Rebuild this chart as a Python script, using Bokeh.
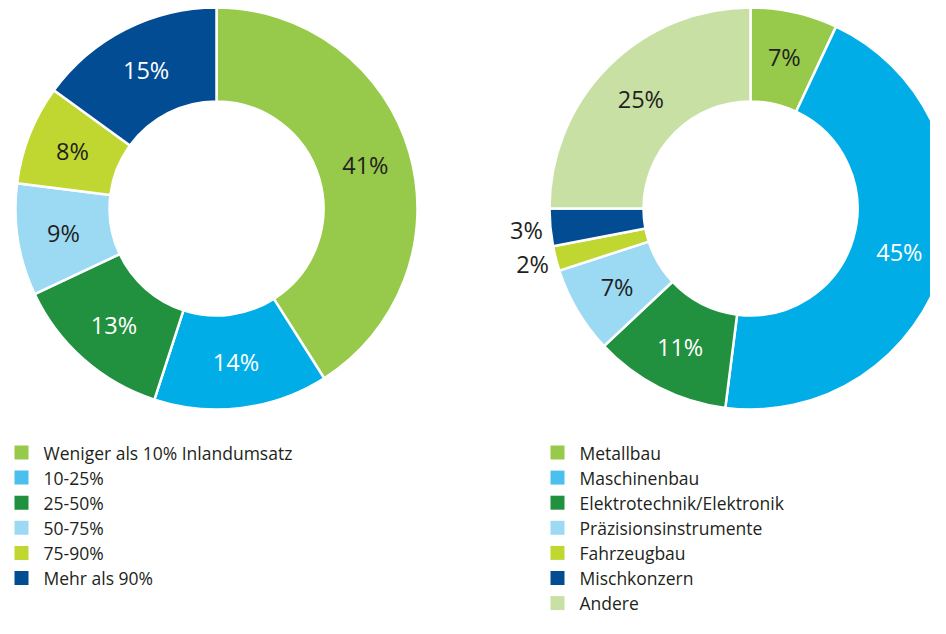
import math
from bokeh.plotting import figure
from bokeh.models import Range1d, ColumnDataSource
from bokeh.core.properties import value
from bokeh.embed import file_html
from bokeh.resources import INLINE

# ---------------- data ----------------
left_labels = ["Weniger als 10% Inlandumsatz", "10-25%", "25-50%", "50-75%", "75-90%", "Mehr als 90%"]
left_values = [41, 14, 13, 9, 8, 15]
left_colors = ["#97C94B", "#00ADE6", "#21903F", "#9CDAF4", "#BFD730", "#024C94"]
left_legend_colors = ["#97C94B", "#4BC0EE", "#21903F", "#9CDAF4", "#BFD730", "#024C94"]
left_text_colors = ["#231F20", "white", "white", "#231F20", "#231F20", "white"]
left_outside = [False, False, False, False, False, False]

right_labels = ["Metallbau", "Maschinenbau", "Elektrotechnik/Elektronik", "Präzisionsinstrumente",
                "Fahrzeugbau", "Mischkonzern", "Andere"]
right_values = [7, 45, 11, 7, 2, 3, 25]
right_colors = ["#97C94B", "#00ADE6", "#21903F", "#9CDAF4", "#BFD730", "#024C94", "#C9E0A4"]
right_legend_colors = ["#97C94B", "#4BC0EE", "#21903F", "#9CDAF4", "#BFD730", "#024C94", "#C9E0A4"]
right_text_colors = ["#231F20", "white", "white", "#231F20", "#231F20", "#231F20", "#231F20"]
right_outside = [False, False, False, False, True, True, False]

# ---------------- layout (pixel-like data units) ----------------
W, H = 930, 618
CY = 208
R_OUT, R_IN = 201, 107
R_LAB, R_LAB_OUT = 155, 225
LEG_Y0, LEG_DY = 452, 25.1
FONT = "Open Sans"
TXT = "#231F20"

p = figure(width=W, height=H, output_backend="svg", toolbar_location=None,
           x_range=Range1d(0, W), y_range=Range1d(-H, 0),
           min_border=0, min_border_left=0, min_border_right=0,
           min_border_top=0, min_border_bottom=0)
p.axis.visible = False
p.grid.visible = False
p.outline_line_color = None
p.background_fill_color = "white"
p.border_fill_color = "white"


def donut(cx, legend_x, labels, values, colors, leg_colors, tcolors, outside):
    total = float(sum(values))
    starts, ends, lx, ly, ltxt, lcol = [], [], [], [], [], []
    cum = 0.0
    for v, o, tc in zip(values, outside, tcolors):
        f0 = cum / total
        cum += v
        f1 = cum / total
        starts.append(math.pi / 2 - 2 * math.pi * f0)
        ends.append(math.pi / 2 - 2 * math.pi * f1)
        th = 2 * math.pi * (f0 + f1) / 2
        r = R_LAB_OUT if o else R_LAB
        lx.append(cx + r * math.sin(th))
        ly.append(-CY + r * math.cos(th))
        ltxt.append(f"{v}%")
        lcol.append(TXT if o else tc)
    src = ColumnDataSource(dict(start=starts, end=ends, color=colors))
    p.annular_wedge(x=cx, y=-CY, inner_radius=R_IN, outer_radius=R_OUT,
                    start_angle="start", end_angle="end", direction="clock",
                    fill_color="color", line_color="white", line_width=2.5, source=src)
    lsrc = ColumnDataSource(dict(x=lx, y=ly, t=ltxt, c=lcol))
    p.text(x="x", y="y", text="t", text_color="c", source=lsrc,
           text_font=value(FONT), text_font_size="23.5px",
           text_align="center", text_baseline="middle")
    # legend
    ys = [-(LEG_Y0 + i * LEG_DY) for i in range(len(labels))]
    p.rect(x=[legend_x] * len(labels), y=ys, width=14, height=14,
           fill_color=leg_colors, line_color=None)
    p.text(x=[legend_x + 22] * len(labels), y=ys, text=labels,
           text_color=TXT, text_font=value(FONT), text_font_size="17.5px",
           text_align="left", text_baseline="middle")


donut(216, 21, left_labels, left_values, left_colors, left_legend_colors,
      left_text_colors, left_outside)
donut(750, 557, right_labels, right_values, right_colors, right_legend_colors,
      right_text_colors, right_outside)

open("out.html", "w").write(file_html(p, INLINE))
